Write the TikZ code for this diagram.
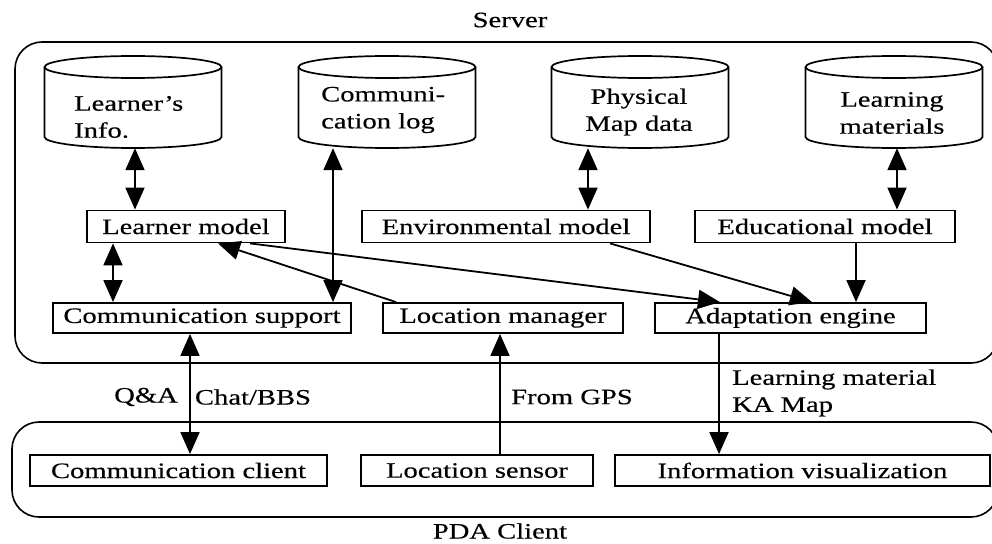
\documentclass[tikz,border=0pt]{standalone}
\usepackage{fontspec}
\setmainfont{Liberation Serif}[FakeStretch=1.3, FakeBold=0.4]
\usetikzlibrary{arrows.meta}

\tikzset{
  every node/.style={font=\fontsize{22pt}{27pt}\selectfont, inner sep=0pt},
  modbox/.style={draw, line width=1.8pt, minimum height=32pt},
  zone/.style={draw, line width=1.6pt, rounded corners=27pt},
  headtip/.tip={Triangle[length=22pt,width=19pt]},
  conn/.style={line width=1.8pt, -headtip},
  dconn/.style={line width=1.8pt, headtip-headtip},
  cylline/.style={line width=1.7pt},
  lbl/.style={align=left, anchor=west}
}

% database cylinder: name, centre x
\newcommand{\dbcyl}[2]{%
  \draw[cylline] (#2,67) ellipse [x radius=88.5pt, y radius=11pt];
  \draw[cylline] (#2-88.5,67) -- (#2-88.5,137)
    arc[start angle=180, end angle=360, x radius=88.5pt, y radius=11pt]
    -- (#2+88.5,67);
  \node[minimum width=177pt, minimum height=92pt] (#1) at (#2,102) {};
}

\begin{document}
\begin{tikzpicture}[x=1pt, y=-1pt]
\useasboundingbox (0,0) rectangle (992,543);

% outer zones
\draw[zone] (15,42) rectangle (998,363);
\draw[zone] (12,422) rectangle (998,517);
\node (server) at (510,20) {Server};
\node (pda) at (500,531) {PDA Client};

% data stores
\dbcyl{linfo}{133}
\dbcyl{clog}{387}
\dbcyl{pmap}{640}
\dbcyl{lmat}{894}
\node[lbl, align=left] (linfotxt) at (74,117) {Learner’s\\Info.};
\node[lbl, align=left] (clogtxt) at (321,110) {Communi-\\cation log};
\node[align=center] (pmaptxt) at (639,112) {Physical\\Map data};
\node[align=center] (lmattxt) at (892,113) {Learning\\materials};

% server modules
\node[modbox, minimum width=198pt] (lm) at (186,226.5) {Learner model};
\node[modbox, minimum width=288pt] (env) at (506,226.5) {Environmental model};
\node[modbox, minimum width=260pt] (edu) at (825,226.5) {Educational model};
\node[modbox, minimum width=298pt, minimum height=30pt] (cs) at (202,318) {Communication support};
\node[modbox, minimum width=240pt, minimum height=30pt] (lmgr) at (503,318) {Location manager};
\node[modbox, minimum width=271pt, minimum height=30pt] (ae) at (790.5,318) {Adaptation engine};

% client modules
\node[modbox, minimum width=297pt, minimum height=31pt] (cc) at (178.5,470.5) {Communication client};
\node[modbox, minimum width=232pt, minimum height=31pt] (ls) at (477,470.5) {Location sensor};
\node[modbox, minimum width=375pt, minimum height=31pt] (iv) at (802.5,470.5) {Information visualization};

% store <-> model links
\draw[dconn] ([xshift=2pt]linfo.south) -- ([xshift=-51pt]lm.north);
\draw[dconn] ([xshift=-54pt]clog.south) -- ([xshift=131pt]cs.north);
\draw[dconn] ([xshift=-52pt]pmap.south) -- ([xshift=82pt]env.north);
\draw[dconn] ([xshift=3pt]lmat.south) -- ([xshift=72pt]edu.north);

% server internal flows
\draw[dconn] ([xshift=-73pt]lm.south) -- ([xshift=-89pt]cs.north);
\draw[conn] ([xshift=14pt]lmgr.north west) -- ([xshift=32pt]lm.south);
\draw[conn] ([xshift=64pt]lm.south) -- ([xshift=-70.5pt]ae.north);
\draw[conn] ([xshift=104pt]env.south) -- ([xshift=21.5pt]ae.north);
\draw[conn] ([xshift=31pt]edu.south) -- ([xshift=65.5pt]ae.north);

% server <-> client flows
\draw[dconn] ([xshift=-12pt]cs.south) -- ([xshift=11.5pt]cc.north);
\draw[conn] ([xshift=23pt]ls.north) -- ([xshift=-3pt]lmgr.south);
\draw[conn] ([xshift=-71.5pt]ae.south) -- ([xshift=-83.5pt]iv.north);

% flow labels
\node (qa) at (146,397) {Q\&A};
\node (chat) at (253,397) {Chat/BBS};
\node (gps) at (572,397) {From GPS};
\node[lbl] (lmlbl) at (732,393) {Learning material\\KA Map};
\end{tikzpicture}
\end{document}
